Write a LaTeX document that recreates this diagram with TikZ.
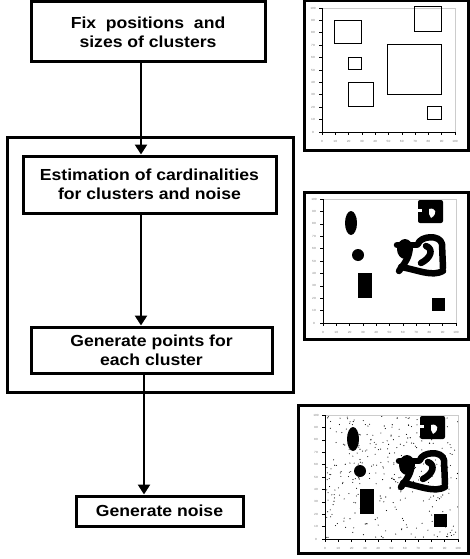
\documentclass[tikz,border=0pt]{standalone}
\usepackage{fontspec}
\setmainfont{Liberation Sans}[FakeStretch=1.1]
\usetikzlibrary{arrows.meta}

% axes with ticks, lower left corner at (#1,#2)
\newcommand{\plotaxes}[2]{%
  \draw[gray!40, line width=0.4pt] (#1,#2) rectangle ++(133,-124);
  \draw[line width=0.8pt] (#1,#2-124) -- (#1,#2) -- (#1+133,#2);
  \foreach \k in {0,...,10} {
    \draw[line width=0.6pt] (#1+13.3*\k,#2) -- ++(0,3);
    \draw[line width=0.6pt] (#1,#2-12.4*\k) -- ++(-3,0);
    \pgfmathtruncatemacro{\v}{10*\k}
    \node[ticklab] at (#1+13.3*\k,#2+9) {\v};
    \node[ticklab] at (#1-9,#2-12.4*\k) {\v};
  }
}

% generated clusters
\newcommand{\clustershapes}{%
  \fill (351,223) ellipse [x radius=6, y radius=12];
  \fill (358,255) circle [radius=6];
  \fill (358,273) rectangle (372,298);
  \fill (432,298) rectangle (445,311);
  \fill[rounded corners=2pt] (418,200) rectangle (443,223);
  \fill[white] (429,209) .. controls (436,207) and (438,214) .. (431,218) -- (429,214) -- cycle;
  \fill[white] (418,209) rectangle (422,212);
  \fill (405,249) ellipse [x radius=8, y radius=10];
  \draw[blob] (397,245) -- (417,245);
  \draw[blob] (409,253) .. controls (407,262) and (402,266) .. (399,271);
  \draw[blob] (401,267) .. controls (418,270) and (432,277) .. (443,271);
  \draw[blob] (418,244) .. controls (420,236) and (440,234) .. (442,244) -- (443,268);
  \draw[blob] (426,246) .. controls (434,249) and (431,258) .. (421,263);
}

\begin{document}
\begin{tikzpicture}[x=1pt, y=-1pt, >={Triangle[width=12pt,length=10pt]},
    box/.style={draw, rectangle, line width=3pt, align=center,
      font=\fontsize{16}{19}\selectfont\bfseries},
    flow/.style={line width=2.8pt},
    frame/.style={draw, line width=3pt},
    blob/.style={line width=6.5pt, line cap=round, line join=round},
    ticklab/.style={font=\fontsize{3}{3}\selectfont, text=gray, inner sep=0pt}]
\useasboundingbox (0,0) rectangle (469,559);

% flow chart
\node(fix)[box, minimum width=234, minimum height=60] at (148,32){Fix~ positions~ and\\sizes of clusters};
\node(grp)[draw, line width=3pt, minimum width=286, minimum height=255] at (150,264.5){};
\node(est)[box, minimum width=253, minimum height=57] at (149.5,184.5){Estimation of cardinalities\\for clusters and noise};
\node(pts)[box, minimum width=241, minimum height=46] at (151.5,350){Generate points for\\each cluster};
\node(noise)[box, minimum width=167, minimum height=30] at (159.5,511){Generate noise};
\draw[->, flow](fix.south -| 141,0)--(est.north -| 141,0);
\draw[->, flow](est.south -| 141,0)--(pts.north -| 141,0);
\draw[->, flow](pts.south -| 144,0)--(noise.north -| 144,0);

% cluster positions
\draw[frame] (304,1) rectangle (468,150);
\plotaxes{322}{132}
\begin{scope}[line width=1pt]
  \draw (334,21) rectangle (361,44);
  \draw (414,7) rectangle (441,32);
  \draw (348,58) rectangle (361,70);
  \draw (387,45) rectangle (441,95);
  \draw (348,83) rectangle (373,107);
  \draw (427,107) rectangle (441,120);
\end{scope}

% clusters only
\draw[frame] (304,192) rectangle (468,339);
\plotaxes{323}{323}
\clustershapes

% clusters with noise
\draw[frame] (298,405) rectangle (468,553);
\begin{scope}[shift={(2,216)}]
  \pgfmathsetseed{11}
  \foreach \i in {1,...,340}
    \fill ({324+133*rnd},{200+122*rnd}) circle [radius=0.55];
  \plotaxes{323}{323}
  \clustershapes
\end{scope}
\end{tikzpicture}
\end{document}
